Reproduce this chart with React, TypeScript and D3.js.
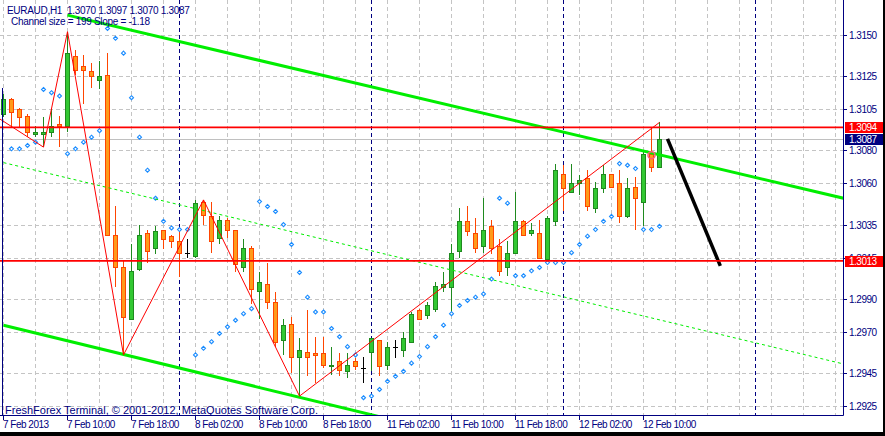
import React from "react";
import * as d3 from "d3";

// ---- data (EURAUD H1) ----
const opens = [
  1.3102, 1.3111, 1.3105, 1.3101, 1.3090, 1.3090, 1.3091, 1.3096, 1.3095, 1.3137,
  1.3131, 1.3128, 1.3123, 1.3126, 1.3029, 1.3009, 1.2978, 1.3008, 1.3030, 1.3021,
  1.3032, 1.3028, 1.3025, 1.3018, 1.3016, 1.3049, 1.3040, 1.3027, 1.3038, 1.3032,
  1.3009, 1.3021, 1.2995, 1.2999, 1.2988, 1.2965, 1.2975, 1.2955, 1.2958, 1.2957,
  1.2957, 1.2949, 1.2952, 1.2946, 1.2952, 1.2948, 1.2958, 1.2965, 1.2950, 1.2961,
  1.2959, 1.2964, 1.2983, 1.2980, 1.2984, 1.2997, 1.2997, 1.3019, 1.3037, 1.3030,
  1.3022, 1.3034, 1.3022, 1.3009, 1.3018, 1.3037, 1.3030, 1.3030, 1.3014, 1.3037,
  1.3066, 1.3055, 1.3060, 1.3063, 1.3045, 1.3057, 1.3066, 1.3060, 1.3040, 1.3058,
  1.3049, 1.3078, 1.3070,
];
const highs = [
  1.3114, 1.3112, 1.3106, 1.3102, 1.3095, 1.3100, 1.3105, 1.3101, 1.3152, 1.3141,
  1.3138, 1.3133, 1.3134, 1.3139, 1.3046, 1.3013, 1.3023, 1.3035, 1.3032, 1.3034,
  1.3032, 1.3029, 1.3032, 1.3026, 1.3050, 1.3050, 1.3049, 1.3040, 1.3039, 1.3032,
  1.3026, 1.3022, 1.3006, 1.3012, 1.2994, 1.2978, 1.2979, 1.2966, 1.2983, 1.2967,
  1.2967, 1.2961, 1.2957, 1.2957, 1.2954, 1.2955, 1.2966, 1.2965, 1.2964, 1.2965,
  1.2970, 1.2982, 1.2984, 1.2988, 1.3000, 1.3006, 1.3023, 1.3045, 1.3046, 1.3039,
  1.3051, 1.3038, 1.3026, 1.3025, 1.3055, 1.3038, 1.3036, 1.3038, 1.3040, 1.3072,
  1.3071, 1.3072, 1.3065, 1.3068, 1.3061, 1.3071, 1.3066, 1.3068, 1.3063, 1.3064,
  1.3079, 1.3094, 1.3097,
];
const lows = [
  1.3100, 1.3095, 1.3094, 1.3088, 1.3088, 1.3082, 1.3088, 1.3082, 1.3091, 1.3126,
  1.3108, 1.3118, 1.3117, 1.3028, 1.2997, 1.2956, 1.2977, 1.3007, 1.3012, 1.3017,
  1.3020, 1.3021, 1.3003, 1.3015, 1.3015, 1.3035, 1.3018, 1.3023, 1.3027, 1.3006,
  1.3006, 1.2987, 1.2978, 1.2984, 1.2961, 1.2956, 1.2945, 1.2931, 1.2943, 1.2939,
  1.2948, 1.2944, 1.2943, 1.2942, 1.2947, 1.2939, 1.2946, 1.2943, 1.2947, 1.2954,
  1.2955, 1.2963, 1.2978, 1.2978, 1.2982, 1.2994, 1.2980, 1.3015, 1.3028, 1.3018,
  1.3018, 1.3017, 1.3004, 1.3004, 1.3017, 1.3028, 1.3028, 1.3014, 1.3013, 1.3034,
  1.3043, 1.3054, 1.3053, 1.3043, 1.3042, 1.3054, 1.3057, 1.3036, 1.3039, 1.3032,
  1.3034, 1.3067, 1.3070,
];
const closes = [
  1.3111, 1.3103, 1.3100, 1.3091, 1.3091, 1.3091, 1.3095, 1.3095, 1.3139, 1.3129,
  1.3129, 1.3125, 1.3125, 1.3029, 1.3009, 1.2979, 1.3007, 1.3029, 1.3019, 1.3031,
  1.3026, 1.3025, 1.3018, 1.3018, 1.3048, 1.3041, 1.3025, 1.3038, 1.3032, 1.3011,
  1.3021, 1.2996, 1.3000, 1.2988, 1.2964, 1.2974, 1.2955, 1.2959, 1.2955, 1.2956,
  1.2950, 1.2950, 1.2947, 1.2950, 1.2949, 1.2948, 1.2966, 1.2949, 1.2961, 1.2961,
  1.2966, 1.2981, 1.2978, 1.2986, 1.2998, 1.2999, 1.3018, 1.3037, 1.3031, 1.3021,
  1.3032, 1.3021, 1.3007, 1.3018, 1.3037, 1.3029, 1.3032, 1.3015, 1.3039, 1.3068,
  1.3057, 1.3060, 1.3062, 1.3046, 1.3057, 1.3066, 1.3058, 1.3040, 1.3057, 1.3051,
  1.3078, 1.3070, 1.3087,
];
// Parabolic SAR
const sar = [
  null, 1.3081, 1.3081, 1.3083, 1.3085, 1.3117, 1.3115, 1.3113, 1.3078, 1.3081,
  1.3085, 1.3088, 1.3092, 1.3154, 1.3148, 1.3139, 1.3112, 1.3088, 1.3068, 1.3051,
  1.3037, 1.3033, 1.3032, 1.3032, 1.2956, 1.2960, 1.2964, 1.2969, 1.2973, 1.2977,
  1.2981, 1.2984, 1.3049, 1.3046, 1.3043, 1.3035, 1.3023, 1.3006, 1.2991, 1.2982,
  1.2982, 1.2972, 1.2967, 1.2961, 1.2956, 1.2930, 1.2931, 1.2935, 1.2940, 1.2943,
  1.2946, 1.2951, 1.2955, 1.2961, 1.2967, 1.2974, 1.2981, 1.2986, 1.2989, 1.2991,
  1.2993, 1.3002, 1.3051, 1.3048, 1.3004, 1.3004, 1.3007, 1.3009, 1.3012, 1.3012,
  1.3012, 1.3018, 1.3023, 1.3028, 1.3032, 1.3037, 1.3040, 1.3072, 1.3071, 1.3069,
  1.3032, 1.3032, 1.3034,
];
// ZigZag vertices
const zigzagIdx = [-3, 5, 8, 15, 25, 37, 82];
const zigzagPrice = [1.3107, 1.3082, 1.3152, 1.2956, 1.3050, 1.2931, 1.3097];
// Equidistant channel
const channelIdx = [0, 105];
const channelUpper = [1.31712, 1.3051];
const channelLower = [1.2974, 1.285];
const channelUpperStartIdx = 8;
// Trend line (black)
const trendIdx = [83, 89.6];
const trendPrice = [1.3087, 1.3010];
// Horizontal levels
const levels = [1.3094, 1.3013];
const bidPrice = 1.3087;
const markerIdx = 81;
const markerPrice = 1.3077;
// Axes
const priceTicks = [1.315, 1.3125, 1.3105, 1.308, 1.306, 1.3035, 1.3015, 1.299, 1.297, 1.2945, 1.2925];
const timeTickIdx = [0, 8, 16, 24, 32, 40, 48, 56, 64, 72, 80];
const timeLabels = [
  "7 Feb 2013", "7 Feb 10:00", "7 Feb 18:00", "8 Feb 02:00", "8 Feb 10:00", "8 Feb 18:00",
  "11 Feb 02:00", "11 Feb 10:00", "11 Feb 18:00", "12 Feb 02:00", "12 Feb 10:00",
];
const daySepIdx = [22, 46, 70, 94];

const W = 885;
const H = 436;
const PR = 843; // plot right
const PB = 415; // plot bottom
const FONT = "'Liberation Sans', Arial, sans-serif";
const NAVY = "#000080";

export default function App() {
  const x = d3.scaleLinear().domain([0, 82]).range([3.5, 659.5]);
  const y = d3.scaleLinear().domain([1.315, 1.2925]).range([35, 406]);

  const gridX = d3.range(0, 105, 4).map((i) => x(i));
  const line = d3
    .line<[number, number]>()
    .x((d) => x(d[0]))
    .y((d) => y(d[1]));

  const zz: [number, number][] = zigzagIdx.map((d, k) => [d, zigzagPrice[k]]);
  const slope = (channelUpper[1] - channelUpper[0]) / (channelIdx[1] - channelIdx[0]);
  const upper: [number, number][] = [
    [channelUpperStartIdx, channelUpper[0] + slope * channelUpperStartIdx],
    [channelIdx[1], channelUpper[1]],
  ];
  const lower: [number, number][] = [
    [channelIdx[0], channelLower[0]],
    [channelIdx[1], channelLower[1]],
  ];
  const mid: [number, number][] = [
    [channelIdx[0], (channelUpper[0] + channelLower[0]) / 2],
    [channelIdx[1], (channelUpper[1] + channelLower[1]) / 2],
  ];
  const trend: [number, number][] = trendIdx.map((d, k) => [d, trendPrice[k]]);

  const crisp = (v: number) => Math.round(v) + 0.5;

  return (
    <svg
      width={W}
      height={H}
      style={{ position: "absolute", left: 0, top: 0, background: "#fff" }}
    >
      <defs>
        <clipPath id="plot">
          <rect x={0} y={0} width={PR} height={PB} />
        </clipPath>
      </defs>
      <rect x={0} y={0} width={W} height={H} fill="#fff" />

      <g clipPath="url(#plot)">
        {/* grid */}
        {gridX.map((gx, k) => (
          <line key={"gx" + k} x1={gx} x2={gx} y1={0} y2={PB} stroke="#c4c4c4" strokeDasharray="4,3" />
        ))}
        {priceTicks.map((p, k) => (
          <line key={"gy" + k} x1={0} x2={PR} y1={crisp(y(p))} y2={crisp(y(p))} stroke="#c4c4c4" strokeDasharray="4,3" />
        ))}
        {/* day separators */}
        {daySepIdx.map((i, k) => (
          <line key={"ds" + k} x1={x(i)} x2={x(i)} y1={0} y2={PB} stroke={NAVY} strokeDasharray="4,3" />
        ))}
        {/* bid line */}
        <line x1={0} x2={PR} y1={crisp(y(bidPrice))} y2={crisp(y(bidPrice))} stroke="#c0c0c0" />

        {/* candles */}
        <g shapeRendering="crispEdges">
          {opens.map((o, i) => {
            const c = closes[i];
            const cx = x(i);
            const doji = o === c;
            const up = c > o;
            const wick = doji ? "#000" : up ? "#1f8a1f" : "#ff4500";
            const top = y(Math.max(o, c));
            const bot = y(Math.min(o, c));
            return (
              <g key={"c" + i}>
                <line x1={cx} x2={cx} y1={y(highs[i])} y2={y(lows[i])} stroke={wick} />
                {doji ? (
                  <line x1={cx - 2.5} x2={cx + 2.5} y1={crisp(top)} y2={crisp(top)} stroke="#000" />
                ) : (
                  <rect
                    x={cx - 2}
                    y={Math.round(top) + 0.5}
                    width={4}
                    height={Math.max(1, Math.round(bot) - Math.round(top))}
                    fill={up ? "#32c832" : "#ff9a1a"}
                    stroke={wick}
                  />
                )}
              </g>
            );
          })}
        </g>

        {/* SAR */}
        {sar.map((s, i) =>
          s == null ? null : (
            <path
              key={"s" + i}
              d={`M${x(i)},${y(s) - 2}L${x(i) + 2},${y(s)}L${x(i)},${y(s) + 2}L${x(i) - 2},${y(s)}Z`}
              fill="#fff"
              stroke="#1a8cff"
              strokeWidth={1.1}
            />
          )
        )}

        {/* channel */}
        <path d={line(upper) || ""} stroke="#00ee00" strokeWidth={3} fill="none" />
        <path d={line(lower) || ""} stroke="#00ee00" strokeWidth={3} fill="none" />
        <path d={line(mid) || ""} stroke="#00ee00" strokeWidth={1} strokeDasharray="3,3" fill="none" />

        {/* zigzag */}
        <path d={line(zz) || ""} stroke="#ff0000" strokeWidth={1} fill="none" />

        {/* marker */}
        <circle cx={x(markerIdx)} cy={y(markerPrice)} r={3.5} fill="none" stroke="#ff5a7a" strokeWidth={1.5} />

        {/* trend line */}
        <path d={line(trend) || ""} stroke="#000" strokeWidth={3.5} fill="none" />
      </g>

      {/* horizontal levels */}
      {levels.map((p, k) => (
        <line key={"lv" + k} x1={0} x2={PR} y1={y(p)} y2={y(p)} stroke="#ff0000" strokeWidth={1.6} />
      ))}

      {/* left marker line */}
      <line x1={2.5} x2={2.5} y1={88} y2={PB} stroke={NAVY} strokeWidth={1} />

      {/* axes */}
      <line x1={0} x2={PR + 0.5} y1={PB + 0.5} y2={PB + 0.5} stroke={NAVY} />
      <line x1={PR + 0.5} x2={PR + 0.5} y1={0} y2={PB + 0.5} stroke={NAVY} />

      {/* price axis */}
      {priceTicks.map((p, k) => (
        <g key={"pt" + k}>
          <line x1={PR} x2={PR + 4} y1={crisp(y(p))} y2={crisp(y(p))} stroke={NAVY} />
          <text x={849} y={y(p) + 4} fontFamily={FONT} fontSize={10} letterSpacing={-0.5} fill={NAVY}>
            {p.toFixed(4)}
          </text>
        </g>
      ))}
      {[
        { p: levels[0], bg: "#ff0000" },
        { p: bidPrice, bg: NAVY },
        { p: levels[1], bg: "#ff0000" },
      ].map((b, k) => (
        <g key={"pb" + k}>
          <rect x={845} y={Math.round(y(b.p)) - 5} width={38} height={11} fill={b.bg} />
          <text x={849} y={Math.round(y(b.p)) + 4} fontFamily={FONT} fontSize={10} letterSpacing={-0.5} fill="#fff">
            {b.p.toFixed(4)}
          </text>
        </g>
      ))}

      {/* time axis */}
      {timeTickIdx.map((i, k) => (
        <g key={"tt" + k}>
          <line x1={x(i)} x2={x(i)} y1={PB} y2={PB + 5} stroke={NAVY} />
          <text x={x(i) - 0.5} y={428} fontFamily={FONT} fontSize={10} letterSpacing={-0.5} fill={NAVY}>
            {timeLabels[k]}
          </text>
        </g>
      ))}

      {/* texts */}
      <text x={7} y={13.5} fontFamily={FONT} fontSize={10} letterSpacing={-0.3} fill={NAVY} style={{ whiteSpace: "pre" }}>
        {"EURAUD,H1  1.3070 1.3097 1.3070 1.3087"}
      </text>
      <text x={11} y={24.5} fontFamily={FONT} fontSize={10} letterSpacing={-0.3} fill={NAVY}>
        Channel size = 199 Slope = -1.18
      </text>
      <text x={5} y={414} fontFamily={FONT} fontSize={11} fill={NAVY}>
        FreshForex Terminal, © 2001-2012, MetaQuotes Software Corp.
      </text>

      {/* window border */}
      <rect x={0} y={432} width={W} height={4} fill="#000" />
      <rect x={883} y={0} width={2} height={H} fill="#000" />
    </svg>
  );
}
